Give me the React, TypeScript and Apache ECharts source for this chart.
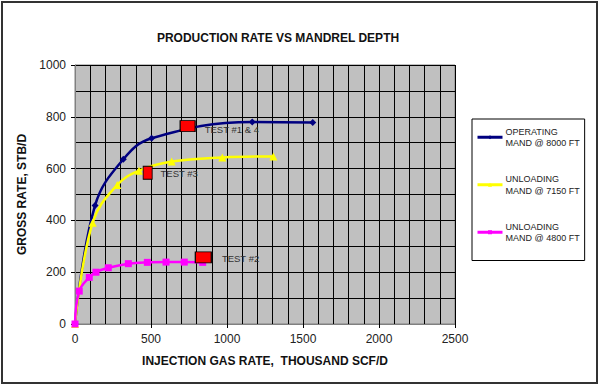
import React, { useEffect, useRef } from "react";
import * as echarts from "echarts";

const titleText = "PRODUCTION RATE VS MANDREL DEPTH";
const xTitle = "INJECTION GAS RATE,  THOUSAND SCF/D";
const yTitle = "GROSS RATE, STB/D";

const opName = "OPERATING\nMAND @ 8000 FT";
const opX = [0, 132, 318, 504, 1166, 1564];
const opY = [0, 458, 636, 717, 780, 778];

const unl7150Name = "UNLOADING\nMAND @ 7150 FT";
const unl7150X = [0, 116, 278, 421, 636, 969, 1305];
const unl7150Y = [0, 391, 537, 592, 627, 643, 647];

const unl4800Name = "UNLOADING\nMAND @ 4800 FT";
const unl4800X = [0, 28, 94, 138, 219, 351, 476, 599, 719, 840];
const unl4800Y = [0, 127, 180, 200, 217, 233, 238, 239, 239, 238];

const testX = [741, 478, 844];
const testY = [764, 584, 257];
const testLabels = ["TEST #1 & 4", "TEST #3", "TEST #2"];
const testSizes = [[15, 11], [9, 13], [16, 11]];
const testLabelGap = [9, 8, 10];
const testLabelDy = [3, 1, 1];

const FONT = "Arial, 'Liberation Sans', sans-serif";

const zip = (xs: number[], ys: number[]) => xs.map((x, i) => [x, ys[i]]);

export default function App() {
  const ref = useRef<HTMLDivElement>(null);
  useEffect(() => {
    document.body.style.margin = "0";
    const chart = echarts.init(ref.current!, null, { renderer: "svg" });
    chart.setOption({
      animation: false,
      backgroundColor: "#ffffff",
      title: {
        text: titleText,
        left: 273,
        textAlign: "center",
        top: 27,
        textStyle: { fontFamily: FONT, fontSize: 12, fontWeight: "bold", color: "#111" },
      },
      graphic: [
        {
          type: "rect",
          shape: { x: 2, y: 2, width: 595, height: 381 },
          style: { fill: "none", stroke: "#333", lineWidth: 2 },
          silent: true,
        },
      ],
      grid: {
        left: 75,
        top: 65,
        width: 380,
        height: 259,
        show: true,
        backgroundColor: "#c0c0c0",
        borderColor: "#808080",
        borderWidth: 1,
      },
      legend: {
        orient: "vertical",
        left: 472,
        top: 119,
        data: [opName, unl7150Name, unl4800Name],
        backgroundColor: "#ffffff",
        borderColor: "#000",
        borderWidth: 1,
        borderRadius: 0,
        padding: [1, 5, 11, 4],
        itemGap: 13,
        itemWidth: 25,
        itemHeight: 5,
        lineStyle: { width: 3 },
        textStyle: {
          fontFamily: FONT,
          fontSize: 9,
          lineHeight: 11.5,
          color: "#222",
          padding: [11.5, 0, 0, -2],
        },
      },
      xAxis: {
        type: "value",
        min: 0,
        max: 2500,
        interval: 500,
        name: xTitle,
        nameLocation: "middle",
        nameGap: 31,
        nameTextStyle: { fontFamily: FONT, fontSize: 12, fontWeight: "bold", color: "#111" },
        axisLine: { show: true, lineStyle: { color: "#808080" } },
        axisTick: { show: true, length: 4, lineStyle: { color: "#000" } },
        axisLabel: {
          fontFamily: FONT,
          fontSize: 12,
          color: "#222",
          margin: 9,
          formatter: (v: number) => String(v),
        },
        splitLine: { show: true, lineStyle: { color: "#000", width: 1 } },
        minorTick: { show: false, splitNumber: 5 },
        minorSplitLine: { show: true, lineStyle: { color: "#000", width: 1 } },
      },
      yAxis: {
        type: "value",
        min: 0,
        max: 1000,
        interval: 200,
        name: yTitle,
        nameLocation: "middle",
        nameGap: 46,
        nameTextStyle: { fontFamily: FONT, fontSize: 12, fontWeight: "bold", color: "#111" },
        axisLine: { show: true, lineStyle: { color: "#808080" } },
        axisTick: { show: true, length: 4, lineStyle: { color: "#000" } },
        axisLabel: {
          fontFamily: FONT,
          fontSize: 12,
          color: "#222",
          margin: 9,
          formatter: (v: number) => String(v),
        },
        splitLine: { show: true, lineStyle: { color: "#000", width: 1 } },
        minorTick: { show: false, splitNumber: 2 },
        minorSplitLine: { show: true, lineStyle: { color: "#000", width: 1 } },
      },
      series: [
        {
          name: opName,
          type: "line",
          data: zip(opX, opY),
          smooth: 0.4,
          symbol: "diamond",
          symbolSize: 7,
          showAllSymbol: true,
          lineStyle: { color: "#000080", width: 2.5 },
          itemStyle: { color: "#000080" },
        },
        {
          name: unl7150Name,
          type: "line",
          data: zip(unl7150X, unl7150Y),
          smooth: 0.4,
          symbol: "triangle",
          symbolSize: 8,
          lineStyle: { color: "#ffff00", width: 2.5 },
          itemStyle: { color: "#ffff00" },
        },
        {
          name: unl4800Name,
          type: "line",
          data: zip(unl4800X, unl4800Y),
          smooth: 0.4,
          symbol: "rect",
          symbolSize: 7,
          lineStyle: { color: "#ff00ff", width: 2.5 },
          itemStyle: { color: "#ff00ff" },
        },
        {
          name: "TESTS",
          type: "scatter",
          data: testX.map((x, i) => ({
            value: [x, testY[i]],
            symbolSize: testSizes[i],
            label: {
              show: true,
              position: "right",
              distance: testLabelGap[i],
              offset: [0, testLabelDy[i]],
              formatter: testLabels[i],
              fontFamily: FONT,
              fontSize: 9.5,
              color: "#333",
            },
          })),
          symbol: "rect",
          itemStyle: { color: "#ff0000", borderColor: "#000", borderWidth: 1, opacity: 1 },
          z: 5,
        },
      ],
    });
    return () => chart.dispose();
  }, []);
  return <div ref={ref} style={{ width: 600, height: 386 }} />;
}
